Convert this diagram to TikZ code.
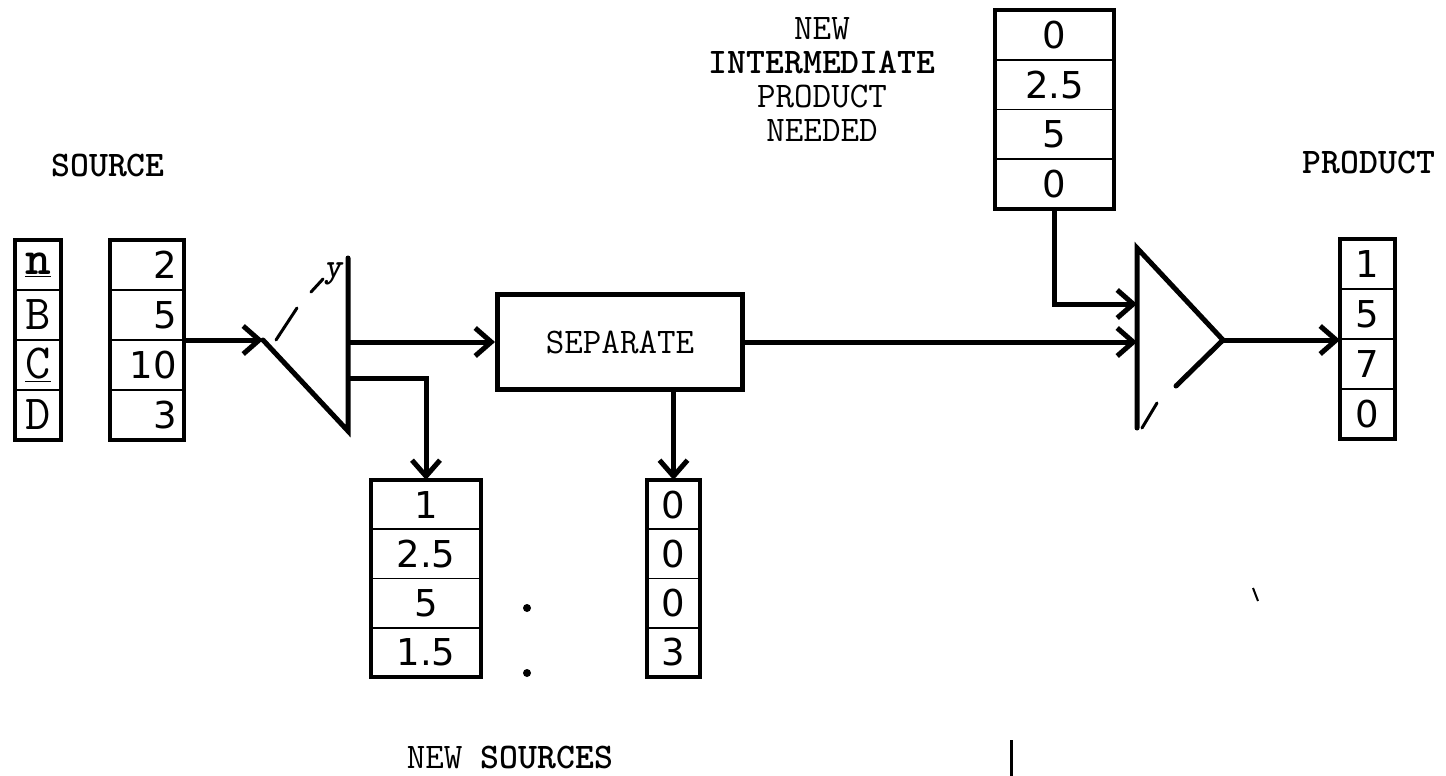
\documentclass[tikz,border=0pt]{standalone}
\usepackage{fontspec}
\newfontfamily\digfnt{DejaVu Sans}
\usetikzlibrary{arrows.meta}
\begin{document}
\begin{tikzpicture}[x=1pt,y=-1pt,
  cell/.style={draw, line width=1.8pt, inner sep=0pt, outer sep=0pt, minimum height=50pt},
  cellb/.style={cell, minimum height=49.25pt},
  frame/.style={line width=4pt},
  arr/.style={line width=5pt, -{Straight Barb[length=16pt,width=28pt]}},
  triline/.style={line width=5pt, line cap=round},
  stroke/.style={line width=3pt, line cap=round},
  num/.style={font=\digfnt\fontsize{37}{40}\selectfont},
  lett/.style={font=\ttfamily\fontsize{49}{50}\selectfont},
  lbl/.style={font=\ttfamily\fontsize{36}{34}\selectfont, inner sep=0pt},
  blbl/.style={font=\ttfamily\bfseries\fontsize{36}{34}\selectfont, inner sep=0pt},
  numR/.style={cell, num, text width=60pt, align=right, inner xsep=7pt, minimum width=74pt}
]
\useasboundingbox (0,0) rectangle (1446,776);

% ---- source letter box
\node[cell, lett, minimum width=46pt] (L1) at (38,265) {\underline{\textbf{n}}};
\node[cell, lett, minimum width=46pt] (L2) at (38,315) {B};
\node[cell, lett, minimum width=46pt] (L3) at (38,365) {\underline{C}};
\node[cell, lett, minimum width=46pt] (L4) at (38,415) {D};
\draw[frame] (L1.north west) rectangle (L4.south east);

% ---- source number box
\node[numR] (N1) at (147,265) {2};
\node[numR] (N2) at (147,315) {5};
\node[numR] (N3) at (147,365) {10};
\node[numR] (N4) at (147,415) {3};
\draw[frame] (N1.north west) rectangle (N4.south east);

% ---- separate
\node[draw, line width=5pt, minimum width=245pt, minimum height=95pt, lbl] (sep) at (620,342) {SEPARATE};

% ---- new sources box
\node[cellb, num, minimum width=110pt] (S1) at (426,504.6) {1};
\node[cellb, num, minimum width=110pt] (S2) at (426,553.9) {2.5};
\node[cellb, num, minimum width=110pt] (S3) at (426,603.1) {5};
\node[cellb, num, minimum width=110pt] (S4) at (426,652.4) {1.5};
\draw[frame] (S1.north west) rectangle (S4.south east);

% ---- separated box
\node[cellb, num, minimum width=53pt] (Z1) at (673.5,504.6) {0};
\node[cellb, num, minimum width=53pt] (Z2) at (673.5,553.9) {0};
\node[cellb, num, minimum width=53pt] (Z3) at (673.5,603.1) {0};
\node[cellb, num, minimum width=53pt] (Z4) at (673.5,652.4) {3};
\draw[frame] (Z1.north west) rectangle (Z4.south east);

% ---- intermediate box
\node[cellb, num, minimum width=119pt, minimum height=49.75pt] (I1) at (1054.5,34.9) {0};
\node[cellb, num, minimum width=119pt, minimum height=49.75pt] (I2) at (1054.5,84.6) {2.5};
\node[cellb, num, minimum width=119pt, minimum height=49.75pt] (I3) at (1054.5,134.4) {5};
\node[cellb, num, minimum width=119pt, minimum height=49.75pt] (I4) at (1054.5,184.1) {0};
\draw[frame] (I1.north west) rectangle (I4.south east);

% ---- product box
\node[cellb, num, minimum width=55pt] (P1) at (1367.5,264) {1};
\node[cellb, num, minimum width=55pt] (P2) at (1367.5,314) {5};
\node[cellb, num, minimum width=55pt] (P3) at (1367.5,364) {7};
\node[cellb, num, minimum width=55pt] (P4) at (1367.5,414) {0};
\draw[frame] (P1.north west) rectangle (P4.south east);

% ---- labels
\node[blbl] (srclbl) at (108,166) {SOURCE};
\node[blbl] (prodlbl) at (1369,163) {PRODUCT};
\node[lbl, align=center] (intlbl) at (822,80) {NEW\\{\bfseries INTERMEDIATE}\\PRODUCT\\NEEDED};
\node[lbl] (nslbl) at (510,757) {NEW {\bfseries SOURCES}};

% ---- split triangle
\coordinate (t1tip) at (263,340);
\coordinate (t1top) at (348,258);
\coordinate (t1bot) at (348,431);
\coordinate (t1low) at (348,378);
\draw[triline] (t1top) -- (t1bot) -- (t1tip);
\draw[stroke] (276,340) -- (297,308);
\draw[stroke] (311,292) -- (323,279);
\node[font=\ttfamily\bfseries\itshape\fontsize{34}{34}\selectfont, inner sep=0pt] (ymark) at (333,274) {y};

% ---- combine triangle
\coordinate (t2top) at (1137,248);
\coordinate (t2bot) at (1137,428);
\coordinate (t2tip) at (1223,340);
\coordinate (t2frag) at (1176,386);
\coordinate (t2in) at (1137,304);
\draw[triline] (t2bot) -- (t2top) -- (t2tip) -- (t2frag);
\draw[stroke] (1142,428) -- (1157,403);

% ---- connectors
\draw[arr] (N2.south east) -- (t1tip);
\draw[arr] (t1top |- sep.west) -- (sep.west);
\draw[arr] (t1low) -| (S1.north);
\draw[arr] (sep.south -| Z1.north) -- (Z1.north);
\draw[arr] (sep.east) -- (t2top |- sep.east);
\draw[arr] (I4.south) |- (t2in);
\draw[arr] (t2tip) -- (t2tip -| P2.south west);

% ---- stray marks of the print
\draw[line width=3pt] (1011,740) -- (1011,776);
\draw[line width=2pt] (1253,588) -- (1258,601);
\fill (527,608) circle (4pt);
\fill (527,673) circle (4pt);
\end{tikzpicture}
\end{document}
